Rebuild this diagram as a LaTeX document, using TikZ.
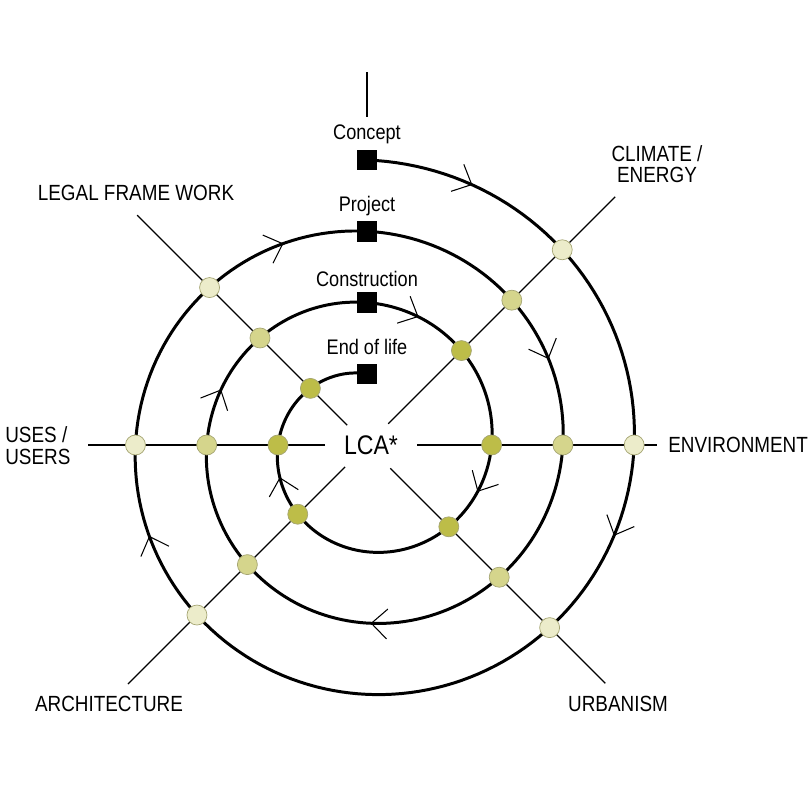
\documentclass[tikz,border=0pt]{standalone}
\usepackage{fontspec}
\setmainfont{Liberation Sans}[FakeStretch=0.86]
\usetikzlibrary{arrows.meta,decorations.markings}
\definecolor{ring-light}{RGB}{236,236,202}
\definecolor{ring-mid}{RGB}{213,213,140}
\definecolor{ring-dark}{RGB}{189,189,72}
\definecolor{ring-border}{RGB}{165,165,115}

\begin{document}
\begin{tikzpicture}[x=0.02cm,y=0.02cm,
  ray/.style={line width=0.75pt},
  spiral/.style={line width=1.7pt},
  stage/.style={fill=black,minimum size=0.41cm,inner sep=0pt},
  point/.style={circle,draw=ring-border,line width=0.4pt,minimum size=0.4cm,inner sep=0pt},
  axislabel/.style={font=\fontsize{12.5}{12.5}\selectfont,inner sep=0pt},
  stagelabel/.style={font=\fontsize{12}{14}\selectfont,inner sep=0pt,anchor=base},
  barb/.tip={Straight Barb[length=9pt,width=17pt,line width=0.6pt]}
]
\useasboundingbox (-367,-365) rectangle (443,445);

%Achsen:
\coordinate (top-in) at (90:328);
\coordinate (top-out) at (90:373);
\draw[ray] (top-in) -- (top-out);
\foreach \name/\t/\s/\e in {climate/45/30/351, environment/90/50/290, urbanism/135/33/337,
  architecture/225/31/338, users/270/42/279, legal/315/28/325}{
  \coordinate (\name-in) at ({90-\t}:\s);
  \coordinate (\name-out) at ({90-\t}:\e);
  \draw[ray] (\name-in) -- (\name-out);
}

%Spirale:
\draw[spiral, decoration={markings,
  mark=at position 0.0324 with {\arrow{barb}},
  mark=at position 0.1568 with {\arrow{barb}},
  mark=at position 0.3346 with {\arrow{barb}},
  mark=at position 0.4409 with {\arrow{barb}},
  mark=at position 0.5358 with {\arrow{barb}},
  mark=at position 0.6483 with {\arrow{barb}},
  mark=at position 0.7457 with {\arrow{barb}},
  mark=at position 0.8154 with {\arrow{barb}},
  mark=at position 0.8766 with {\arrow{barb}},
  mark=at position 0.9526 with {\arrow{barb}}}, postaction={decorate}]
  plot[domain=0:1080, samples=541] ({90-\x}:{285-0.198*\x});

%Schnittpunkte:
\foreach \name/\t in {climate/45, environment/90, urbanism/135, architecture/225, users/270, legal/315}{
  \node[point,fill=ring-light] (\name-1) at ({90-\t}:{285-0.198*\t}) {};
  \node[point,fill=ring-mid] (\name-2) at ({90-\t}:{285-0.198*(\t+360)}) {};
  \node[point,fill=ring-dark] (\name-3) at ({90-\t}:{285-0.198*(\t+720)}) {};
}

%Phasen:
\foreach \name/\k in {concept/0, project/1, construction/2, endoflife/3}
  \node[stage] (\name) at (90:{285-71.28*\k}) {};
\node[stagelabel] (concept-label) at (0,305) {Concept};
\node[stagelabel] (project-label) at (0,233) {Project};
\node[stagelabel] (construction-label) at (0,158) {Construction};
\node[stagelabel] (endoflife-label) at (0,90) {End of life};

%Beschriftung:
\node[font=\fontsize{15.3}{18}\selectfont,inner sep=0pt] (lca) at (4,0) {LCA*};
\node[axislabel,align=center,font=\fontsize{12.5}{11.8}\selectfont] (climate) at (290,281) {CLIMATE /\\ENERGY};
\node[axislabel,anchor=west] (environment) at (301,0) {ENVIRONMENT};
\node[axislabel] (urbanism) at (251,-259) {URBANISM};
\node[axislabel] (architecture) at (-258,-259) {ARCHITECTURE};
\node[axislabel,anchor=west,align=left] (users) at (-362,-1) {USES /\\USERS};
\node[axislabel] (legal) at (-231,252) {LEGAL FRAME WORK};
\end{tikzpicture}
\end{document}
